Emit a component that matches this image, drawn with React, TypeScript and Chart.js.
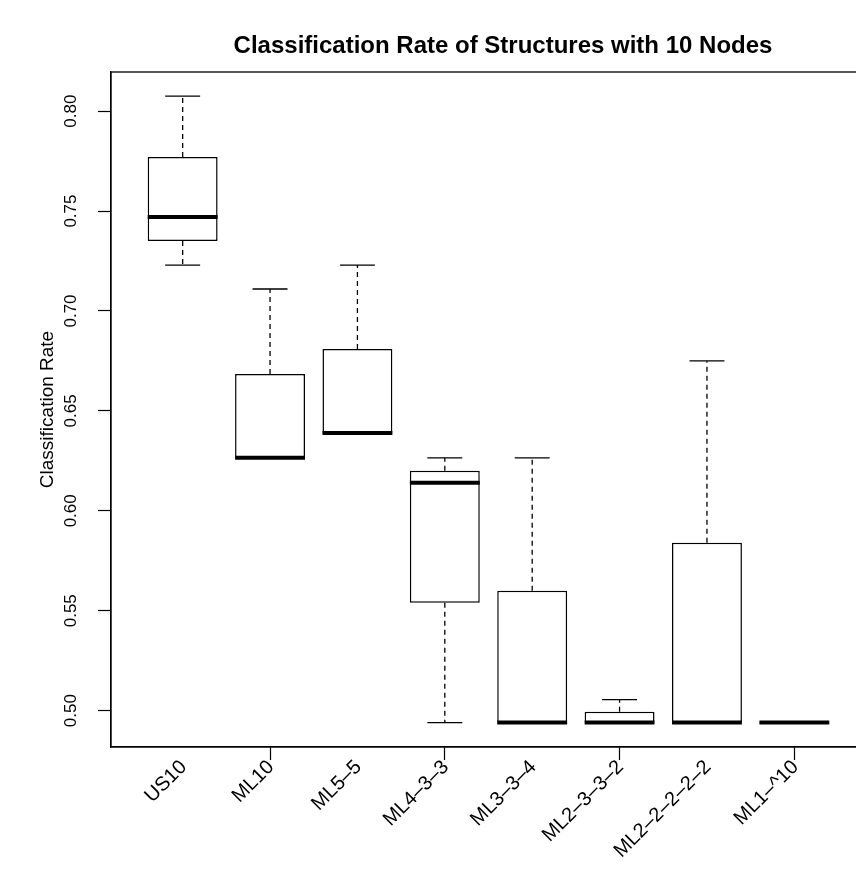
import { useEffect, useRef } from "react";
import { Chart, registerables } from "chart.js";

Chart.register(...registerables);

const chartTitle = "Classification Rate of Structures with 10 Nodes";
const yAxisTitle = "Classification Rate";

const categories = [
  "US10",
  "ML10",
  "ML5–5",
  "ML4–3–3",
  "ML3–3–4",
  "ML2–3–3–2",
  "ML2–2–2–2–2",
  "ML1–^10",
];

// five-number summaries per structure
const whiskerLow = [0.723, 0.6265, 0.639, 0.494, 0.494, 0.494, 0.494, 0.494];
const lowerQuartile = [0.735, 0.6265, 0.639, 0.554, 0.494, 0.494, 0.494, 0.494];
const medians = [0.747, 0.6265, 0.639, 0.614, 0.494, 0.494, 0.494, 0.494];
const upperQuartile = [0.777, 0.6685, 0.681, 0.62, 0.56, 0.4995, 0.584, 0.494];
const whiskerHigh = [0.8075, 0.711, 0.723, 0.6265, 0.6265, 0.5055, 0.675, 0.494];

const yTicks = [0.5, 0.55, 0.6, 0.65, 0.7, 0.75, 0.8];
const xTickPositions = [2, 4, 6, 8];

const FONT = "'Liberation Sans', Arial, Helvetica, sans-serif";

const boxPlotPlugin = {
  id: "boxPlotExtras",
  afterDatasetsDraw(chart: any) {
    const { ctx, chartArea } = chart;
    const xs = chart.scales.x;
    const ys = chart.scales.y;
    const meta = chart.getDatasetMeta(0);

    ctx.save();
    ctx.strokeStyle = "#000";
    ctx.fillStyle = "#000";

    categories.forEach((_, i) => {
      const cx = xs.getPixelForValue(i + 1);
      const boxW = meta.data[i].width;
      const capHalf = boxW / 4;
      const yQ1 = ys.getPixelForValue(lowerQuartile[i]);
      const yQ3 = ys.getPixelForValue(upperQuartile[i]);
      const yLo = ys.getPixelForValue(whiskerLow[i]);
      const yHi = ys.getPixelForValue(whiskerHigh[i]);
      const yMed = ys.getPixelForValue(medians[i]);

      // dashed whiskers
      ctx.lineWidth = 1.3;
      ctx.setLineDash([5, 4]);
      ctx.beginPath();
      ctx.moveTo(cx, yQ3);
      ctx.lineTo(cx, yHi);
      ctx.moveTo(cx, yQ1);
      ctx.lineTo(cx, yLo);
      ctx.stroke();

      // whisker caps
      ctx.setLineDash([]);
      ctx.beginPath();
      ctx.moveTo(cx - capHalf, yHi);
      ctx.lineTo(cx + capHalf, yHi);
      ctx.moveTo(cx - capHalf, yLo);
      ctx.lineTo(cx + capHalf, yLo);
      ctx.stroke();

      // median
      ctx.lineWidth = 4;
      ctx.beginPath();
      ctx.moveTo(cx - boxW / 2, yMed);
      ctx.lineTo(cx + boxW / 2, yMed);
      ctx.stroke();
    });

    // plot frame
    ctx.lineWidth = 1.3;
    ctx.strokeRect(
      chartArea.left,
      chartArea.top,
      chartArea.right - chartArea.left,
      chartArea.bottom - chartArea.top
    );

    // y tick labels, rotated
    ctx.font = `17px ${FONT}`;
    ctx.textAlign = "center";
    ctx.textBaseline = "middle";
    ys.ticks.forEach((t: any) => {
      const y = ys.getPixelForValue(t.value);
      ctx.save();
      ctx.translate(71, y);
      ctx.rotate(-Math.PI / 2);
      ctx.fillText(t.value.toFixed(2), 0, 0);
      ctx.restore();
    });

    // category labels at 45 degrees
    ctx.font = `20px ${FONT}`;
    ctx.textAlign = "right";
    ctx.textBaseline = "middle";
    categories.forEach((label, i) => {
      const x = xs.getPixelForValue(i + 1);
      ctx.save();
      ctx.translate(x + 1, chartArea.bottom + 17);
      ctx.rotate(-Math.PI / 4);
      ctx.fillText(label, 0, 0);
      ctx.restore();
    });

    // main title
    ctx.font = `bold 24px ${FONT}`;
    ctx.textAlign = "center";
    ctx.fillText(chartTitle, chartArea.left + 392, 46);

    ctx.restore();
  },
};

export default function App() {
  const canvasRef = useRef<HTMLCanvasElement | null>(null);

  useEffect(() => {
    const canvas = canvasRef.current;
    if (!canvas) return;
    const chart = new Chart(canvas, {
      type: "bar",
      data: {
        datasets: [
          {
            data: categories.map((_, i) => ({
              x: i + 1,
              y: [lowerQuartile[i], upperQuartile[i]],
            })) as any,
            backgroundColor: "#ffffff",
            borderColor: "#000000",
            borderWidth: 1.5,
            borderSkipped: false,
            categoryPercentage: 1,
            barPercentage: 0.8,
          },
        ],
      },
      options: {
        animation: false,
        responsive: false,
        maintainAspectRatio: false,
        events: [],
        layout: { padding: { top: 72, left: 0, right: 14, bottom: 0 } },
        plugins: {
          legend: { display: false },
          tooltip: { enabled: false },
          title: { display: false },
        },
        scales: {
          x: {
            type: "linear",
            min: 0.18,
            max: 8.82,
            offset: false,
            afterBuildTicks: (s: any) => {
              s.ticks = xTickPositions.map((v) => ({ value: v }));
            },
            afterFit: (s: any) => {
              s.height = 129;
            },
            ticks: { display: false },
            grid: {
              offset: false,
              drawOnChartArea: false,
              drawTicks: true,
              tickLength: 13,
              tickColor: "#000",
              tickWidth: 1.2,
            },
            border: { display: true, color: "#000", width: 1.2 },
          },
          y: {
            type: "linear",
            min: 0.4818,
            max: 0.8196,
            beginAtZero: false,
            afterBuildTicks: (s: any) => {
              s.ticks = yTicks.map((v) => ({ value: v }));
            },
            afterFit: (s: any) => {
              s.width = 111;
            },
            ticks: { display: false },
            grid: {
              drawOnChartArea: false,
              drawTicks: true,
              tickLength: 13,
              tickColor: "#000",
              tickWidth: 1.2,
            },
            border: { display: true, color: "#000", width: 1.2 },
            title: {
              display: true,
              text: yAxisTitle,
              color: "#000",
              font: { family: FONT, size: 19 },
              padding: { top: 36, bottom: 0 },
            },
          },
        },
      },
      plugins: [boxPlotPlugin],
    });
    return () => chart.destroy();
  }, []);

  return (
    <div
      style={{
        position: "fixed",
        left: 0,
        top: 0,
        width: 856,
        height: 876,
        overflow: "hidden",
        background: "#fff",
      }}
    >
      <canvas ref={canvasRef} width={880} height={876} style={{ width: 880, height: 876 }} />
    </div>
  );
}
